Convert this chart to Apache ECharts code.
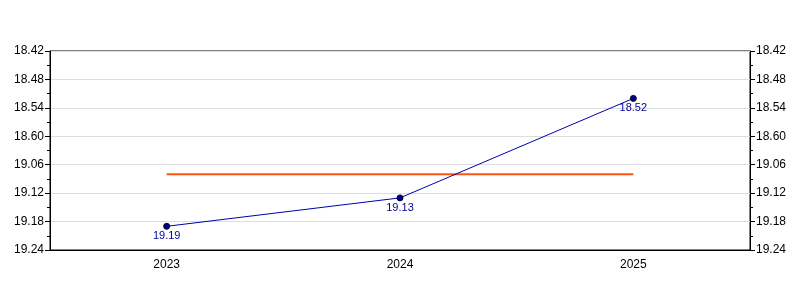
<!DOCTYPE html>
<html><head><meta charset="utf-8">
<script src="https://cdn.jsdelivr.net/npm/echarts@6/dist/echarts.min.js"></script>
<style>html,body{margin:0;padding:0;background:#fff}#c{width:800px;height:300px}</style>
</head><body><div id="c"></div>
<script>
var categories = ['2023', '2024', '2025'];
var timeLabels = ['19.19', '19.13', '18.52'];
var avgSeconds = 1148;
var yTickLabels = ['18.42', '18.48', '18.54', '18.60', '19.06', '19.12', '19.18', '19.24'];
var yMin = 1122, yMax = 1164, yStep = 6;

function toSeconds(s) { var p = s.split('.'); return (+p[0]) * 60 + (+p[1]); }
var values = timeLabels.map(toSeconds);
var avgData = categories.map(function () { return avgSeconds; });

function fmt(v) { var i = Math.round((v - yMin) / yStep); return yTickLabels[i] || ''; }

var yAxisBase = function (pos) {
  return {
    type: 'value', position: pos, inverse: true, min: yMin, max: yMax, interval: yStep,
    axisLine: { show: true, lineStyle: { color: '#000', width: 1 } },
    axisTick: { show: true, length: 5, lineStyle: { color: '#000' } },
    minorTick: { show: true, splitNumber: 2, length: 3, lineStyle: { color: '#000' } },
    splitLine: { show: pos === 'left', lineStyle: { color: '#dddddd', width: 1 } },
    axisLabel: { formatter: fmt, color: '#000', fontFamily: 'Liberation Sans', fontSize: 12, margin: 6 }
  };
};

var chart = echarts.init(document.getElementById('c'), null, { renderer: 'canvas' });
chart.setOption({
  animation: false,
  grid: { left: 50, right: 50, top: 51, bottom: 50, show: true, borderColor: '#000', borderWidth: 1, backgroundColor: 'transparent' },
  xAxis: {
    type: 'category', data: categories, boundaryGap: true,
    axisLine: { lineStyle: { color: '#000' } },
    axisTick: { alignWithLabel: true, length: 5, lineStyle: { color: '#000' } },
    axisLabel: { color: '#000', fontFamily: 'Liberation Sans', fontSize: 12, margin: 9 }
  },
  yAxis: [yAxisBase('left'), yAxisBase('right')],
  series: [
    {
      type: 'line', data: avgData, symbol: 'none', silent: true,
      lineStyle: { color: '#ff5511', width: 2 }, z: 2
    },
    {
      type: 'line', data: values, symbol: 'circle', symbolSize: 6,
      lineStyle: { color: '#0000aa', width: 1 },
      itemStyle: { color: '#000080', borderColor: '#000033', borderWidth: 1 },
      label: {
        show: true, position: 'bottom', distance: 1,
        formatter: function (p) { return timeLabels[p.dataIndex]; },
        color: '#000099', fontFamily: 'Liberation Sans', fontSize: 11
      }, z: 3
    }
  ]
});
</script></body></html>
